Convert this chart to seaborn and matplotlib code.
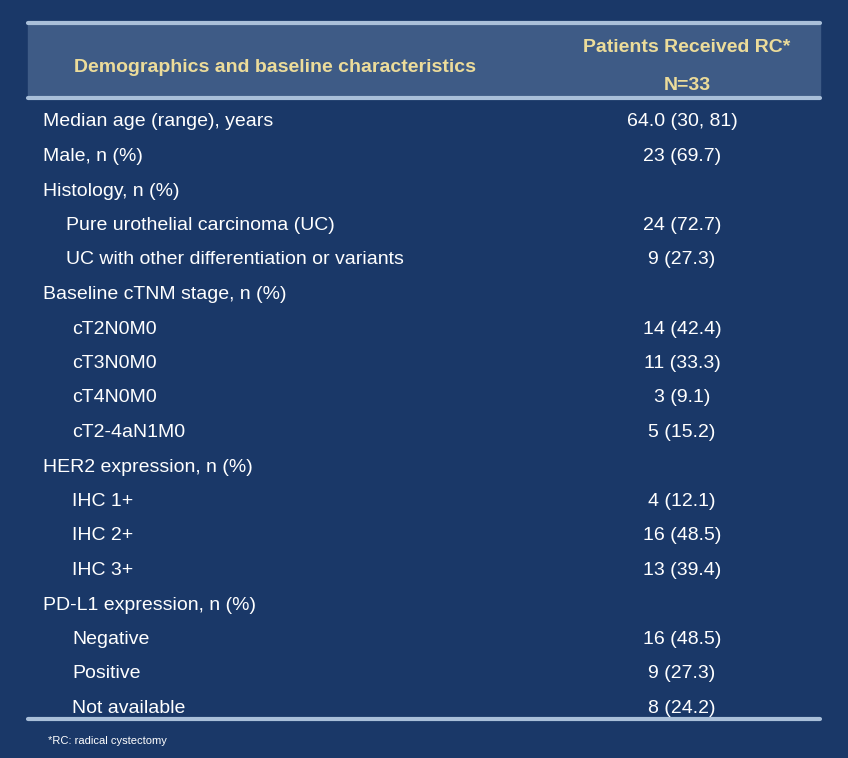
import matplotlib
matplotlib.use("Agg")
import matplotlib.pyplot as plt
import seaborn as sns

sns.set_theme(style="white")
plt.rcParams['font.family'] = ['Liberation Sans', 'DejaVu Sans']

header_left = "Demographics and baseline characteristics"
header_right = ["Patients Received RC*", "N=33"]
labels = ["Median age (range), years", "Male, n (%)", "Histology, n (%)",
          "Pure urothelial carcinoma (UC)", "UC with other differentiation or variants",
          "Baseline cTNM stage, n (%)", "cT2N0M0", "cT3N0M0", "cT4N0M0", "cT2-4aN1M0",
          "HER2 expression, n (%)", "IHC 1+", "IHC 2+", "IHC 3+",
          "PD-L1 expression, n (%)", "Negative", "Positive", "Not available"]
levels = [0, 0, 0, 1, 1, 0, 2, 2, 2, 2, 0, 2, 2, 2, 0, 2, 2, 2]
values = ["64.0 (30, 81)", "23 (69.7)", "", "24 (72.7)", "9 (27.3)", "",
          "14 (42.4)", "11 (33.3)", "3 (9.1)", "5 (15.2)", "",
          "4 (12.1)", "16 (48.5)", "13 (39.4)", "", "16 (48.5)", "9 (27.3)", "8 (24.2)"]
footnote = "*RC: radical cystectomy"

bg = "#1a3868"
fig = plt.figure(figsize=(8.48, 7.58), dpi=100, facecolor=bg)
ax = fig.add_axes([0, 0, 1, 1])
ax.set_facecolor(bg)
ax.set_xlim(0, 848)
ax.set_ylim(758, 0)
ax.axis("off")

ax.fill_between([28, 820], 24, 97, color="#3e5b86", zorder=1)
ax.plot([28, 820], [23, 23], color="#a9bfd9", lw=3, zorder=2)
ax.plot([28, 820], [98, 98], color="#a9bfd9", lw=3, zorder=2)
ax.plot([28, 820], [719, 719], color="#a9bfd9", lw=3, zorder=2)

gold = "#ecdc9a"
ax.text(275, 67, header_left, color=gold, fontsize=14, fontweight="bold",
        ha="center", va="center")
ax.text(687, 48, header_right[0], color=gold, fontsize=14, fontweight="bold",
        ha="center", va="center")
ax.text(687, 86, header_right[1], color=gold, fontsize=14, fontweight="bold",
        ha="center", va="center")

indent = {0: 43, 1: 66, 2: 72}
for i, (lab, lv, val) in enumerate(zip(labels, levels, values)):
    y = 122 + i * 34.5
    ax.text(indent[lv], y, lab, color="white", fontsize=14, ha="left", va="center")
    if val:
        ax.text(682, y, val, color="white", fontsize=14, ha="center", va="center")

ax.text(48, 741, footnote, color="white", fontsize=8, ha="left", va="center")

fig.savefig("out.png", dpi=100, facecolor=bg)
